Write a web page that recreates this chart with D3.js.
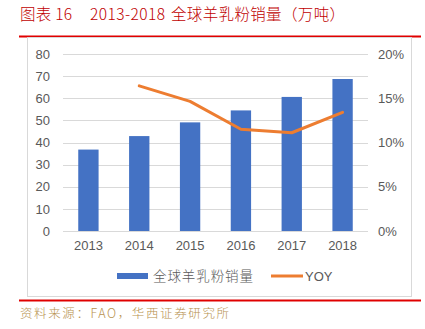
<!DOCTYPE html>
<html><head><meta charset="utf-8">
<script src="https://cdn.jsdelivr.net/npm/d3@7"></script>
<style>body{margin:0;background:#fff}svg{display:block}</style>
</head><body>
<script>
const years = ["2013","2014","2015","2016","2017","2018"];
const sales = [36.8, 42.9, 49.1, 54.5, 60.6, 68.7];
const yoy = [null, 0.164, 0.1465, 0.115, 0.111, 0.134];
const leftTicks = [0,10,20,30,40,50,60,70,80];
const rightTicks = [0,0.05,0.10,0.15,0.20];
const titleParts = ["图表 16", "2013-2018", "全球羊乳粉销量（万吨）"];
const source = "资料来源：FAO，华西证券研究所";
const legendNames = ["全球羊乳粉销量","YOY"];

const W=425,H=329;
const svg=d3.select("body").append("svg").attr("width",W).attr("height",H);
const font="'Liberation Sans', Arial, sans-serif";
const cjk="'Noto Sans CJK SC', sans-serif";

const tt=svg.append("text").attr("y",20).attr("fill","#c00000")
  .attr("font-family",cjk).attr("font-size",15.5).attr("font-weight",300);
tt.append("tspan").attr("x",20).attr("textLength",52).attr("lengthAdjust","spacing").text(titleParts[0]);
tt.append("tspan").attr("x",90).attr("textLength",75).attr("lengthAdjust","spacing").text(titleParts[1]);
tt.append("tspan").attr("x",171).attr("textLength",174).attr("lengthAdjust","spacing").text(titleParts[2]);

svg.append("rect").attr("x",19).attr("y",35.5).attr("width",402).attr("height",2).attr("fill","#e00000");
svg.append("rect").attr("x",27.5).attr("y",37.5).attr("width",384).attr("height",259).attr("fill","none").attr("stroke","#d9d9d9");
svg.append("rect").attr("x",19).attr("y",299.5).attr("width",402).attr("height",2).attr("fill","#e00000");
svg.append("text").attr("x",20).attr("y",318).attr("fill","#b8924f")
  .attr("font-family",cjk).attr("font-size",12.5).attr("font-weight",300)
  .attr("textLength",209).attr("lengthAdjust","spacing").text(source);

const x=d3.scaleBand().domain(years).range([63,368]).paddingInner(0.6).paddingOuter(0.3);
const yL=d3.scaleLinear().domain([0,80]).range([231,54]);
const yR=d3.scaleLinear().domain([0,0.20]).range([231,54]);

// gridlines
svg.append("g").selectAll("line").data(leftTicks).join("line")
  .attr("x1",63).attr("x2",368).attr("y1",d=>Math.round(yL(d))+0.5).attr("y2",d=>Math.round(yL(d))+0.5)
  .attr("stroke","#d9d9d9").attr("stroke-width",1);

// bars
svg.append("g").selectAll("rect").data(sales).join("rect")
  .attr("x",(d,i)=>x(years[i])).attr("width",x.bandwidth())
  .attr("y",d=>yL(d)).attr("height",d=>yL(0)-yL(d)).attr("fill","#4472c4");

// line
const line=d3.line().defined(d=>d!=null).x((d,i)=>x(years[i])+x.bandwidth()/2).y(d=>yR(d));
svg.append("path").datum(yoy).attr("d",line).attr("fill","none")
  .attr("stroke","#ed7d31").attr("stroke-width",3).attr("stroke-linejoin","round").attr("stroke-linecap","round");

// axes
const axL=d3.axisLeft(yL).tickValues(leftTicks).tickSize(0).tickPadding(0);
svg.append("g").attr("transform","translate(50,0)").call(axL)
  .call(g=>g.select(".domain").remove())
  .selectAll("text").attr("font-family",font).attr("font-size",13).attr("fill","#595959");
const axR=d3.axisRight(yR).tickValues(rightTicks).tickFormat(d3.format(".0%")).tickSize(0).tickPadding(0);
svg.append("g").attr("transform","translate(378,0)").call(axR)
  .call(g=>g.select(".domain").remove())
  .selectAll("text").attr("font-family",font).attr("font-size",13).attr("fill","#595959");
const axB=d3.axisBottom(x).tickSize(0).tickPadding(0);
svg.append("g").attr("transform","translate(0,241)").call(axB)
  .call(g=>g.select(".domain").remove())
  .selectAll("text").attr("font-family",font).attr("font-size",13).attr("fill","#595959").attr("dy","0.71em");

// legend
svg.append("rect").attr("x",117).attr("y",273).attr("width",31).attr("height",6).attr("fill","#4472c4");
svg.append("text").attr("x",153).attr("y",281).attr("font-family",cjk).attr("font-size",13.5).attr("font-weight",300)
  .attr("fill","#595959").attr("textLength",100).attr("lengthAdjust","spacing").text(legendNames[0]);
svg.append("line").attr("x1",271).attr("x2",303).attr("y1",276).attr("y2",276).attr("stroke","#ed7d31").attr("stroke-width",3);
svg.append("text").attr("x",305).attr("y",281).attr("font-family",font).attr("font-size",13).attr("fill","#595959").text(legendNames[1]);
</script>
</body></html>
